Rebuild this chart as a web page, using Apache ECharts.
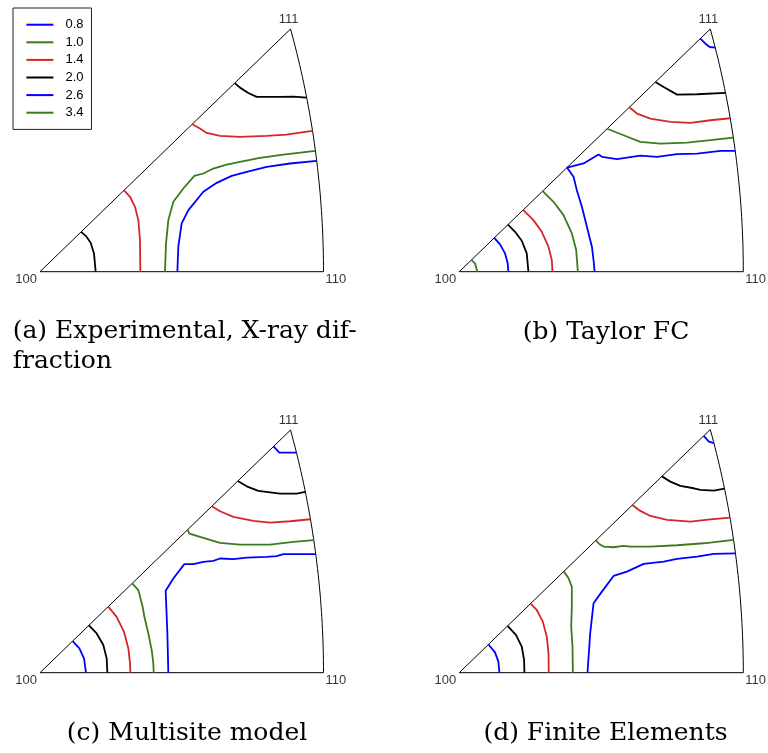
<!DOCTYPE html>
<html>
<head>
<meta charset="utf-8">
<script src="https://cdn.jsdelivr.net/npm/echarts@6/dist/echarts.min.js"></script>
<style>
  html, body { margin: 0; padding: 0; background: #ffffff; }
  #chart { width: 768px; height: 753px; }
</style>
</head>
<body>
<div id="chart"></div>
<script>
// Inverse pole figures (stereographic projection, [100] at the origin).
// Contour points are stereographic coordinates (x, y) inside the 100-110-111 triangle.

const levels = ['0.8', '1.0', '1.4', '2.0', '2.6', '3.4'];
const poleNames = ['100', '110', '111'];
const poleCoords = [[0, 0], [0.41421, 0], [0.36603, 0.36603]];
const captions = [
  ['(a) Experimental, X-ray dif-', 'fraction'],
  ['(b) Taylor FC'],
  ['(c) Multisite model'],
  ['(d) Finite Elements']
];

// (a) Experimental, X-ray diffraction
const a20Low = [[0.0600,0.0600],[0.0672,0.0537],[0.0740,0.0437],[0.0789,0.0276],[0.0813,0]];
const a14Low = [[0.1228,0.1228],[0.1315,0.1130],[0.1388,0.0979],[0.1437,0.0778],[0.1461,0.0477],[0.1466,0]];
const a10 = [[0.1826,0],[0.1841,0.0427],[0.1875,0.0778],[0.1948,0.1054],[0.2094,0.1255],[0.2255,0.1446],[0.2386,0.1481],[0.2532,0.1556],[0.2727,0.1616],[0.2922,0.1657],[0.3214,0.1717],[0.3555,0.1767],[0.4024,0.1822]];
const a08 = [[0.2007,0],[0.2021,0.0377],[0.2070,0.0728],[0.2168,0.0929],[0.2387,0.1205],[0.2582,0.1340],[0.2801,0.1446],[0.3020,0.1506],[0.3312,0.1581],[0.3653,0.1632],[0.4043,0.1672]];
const a14High = [[0.2225,0.2225],[0.2338,0.2159],[0.2435,0.2093],[0.2630,0.2048],[0.2922,0.2033],[0.3312,0.2048],[0.3604,0.2068],[0.3799,0.2098],[0.3982,0.2123]];
const a20High = [[0.2845,0.2845],[0.2922,0.2776],[0.3044,0.2696],[0.3166,0.2636],[0.3312,0.2636],[0.3507,0.2636],[0.3702,0.2641],[0.3896,0.2625]];

// (b) Taylor FC
const b34 = [[0.0178,0.0178],[0.0229,0.0126],[0.0263,0]];
const b26Low = [[0.0510,0.0510],[0.0594,0.0412],[0.0667,0.0276],[0.0706,0.0126],[0.0716,0]];
const b20Low = [[0.0710,0.0710],[0.0813,0.0602],[0.0911,0.0467],[0.0984,0.0276],[0.1008,0]];
const b14Low = [[0.0932,0.0932],[0.1081,0.0778],[0.1203,0.0602],[0.1300,0.0377],[0.1349,0.0176],[0.1359,0]];
const b10Low = [[0.1216,0.1216],[0.1374,0.1054],[0.1520,0.0853],[0.1641,0.0577],[0.1705,0.0326],[0.1729,0]];
const b08 = [[0.1973,0],[0.1958,0.0176],[0.1934,0.0377],[0.1861,0.0678],[0.1788,0.0979],[0.1714,0.1230],[0.1666,0.1431],[0.1570,0.1570],[0.1812,0.1632],[0.2031,0.1767],[0.2080,0.1732],[0.2299,0.1697],[0.2640,0.1752],[0.2884,0.1732],[0.3176,0.1772],[0.3468,0.1782],[0.3809,0.1822],[0.4024,0.1822]];
const b10High = [[0.2156,0.2156],[0.2396,0.2058],[0.2640,0.1958],[0.2932,0.1933],[0.3322,0.1948],[0.3663,0.1983],[0.3997,0.2023]];
const b14High = [[0.2480,0.2480],[0.2591,0.2385],[0.2786,0.2309],[0.3078,0.2259],[0.3371,0.2244],[0.3663,0.2284],[0.3951,0.2314]];
const b20High = [[0.2860,0.2860],[0.2981,0.2786],[0.3176,0.2671],[0.3468,0.2676],[0.3883,0.2696]];
const b26High = [[0.3515,0.3515],[0.3590,0.3439],[0.3653,0.3389],[0.3733,0.3378]];

// (c) Multisite model
const c26Low = [[0.0477,0.0477],[0.0575,0.0366],[0.0643,0.0216],[0.0672,0]];
const c20Low = [[0.0715,0.0715],[0.0828,0.0592],[0.0925,0.0417],[0.0974,0.0216],[0.0984,0]];
const c14Low = [[0.0997,0.0997],[0.1120,0.0843],[0.1227,0.0617],[0.1291,0.0366],[0.1315,0.0141],[0.1320,0]];
const c10Low = [[0.1347,0.1347],[0.1437,0.1245],[0.1500,0.0994],[0.1525,0.0843],[0.1583,0.0592],[0.1632,0.0341],[0.1656,0.0141],[0.1661,0]];
const c08 = [[0.1875,0],[0.1861,0.0592],[0.1836,0.1235],[0.1948,0.1421],[0.2109,0.1637],[0.2241,0.1637],[0.2387,0.1672],[0.2533,0.1687],[0.2630,0.1722],[0.2825,0.1712],[0.3020,0.1737],[0.3312,0.1747],[0.3458,0.1757],[0.3556,0.1787],[0.3799,0.1787],[0.4029,0.1787]];
const c10High = [[0.2156,0.2156],[0.2182,0.2098],[0.2338,0.2048],[0.2630,0.1958],[0.2922,0.1933],[0.3361,0.1933],[0.3702,0.1973],[0.4000,0.1998]];
const c14High = [[0.2509,0.2509],[0.2630,0.2435],[0.2825,0.2349],[0.3117,0.2289],[0.3361,0.2264],[0.3653,0.2284],[0.3951,0.2314]];
const c20High = [[0.2890,0.2890],[0.3020,0.2811],[0.3190,0.2741],[0.3507,0.2701],[0.3750,0.2701],[0.3877,0.2726]];
const c26High = [[0.3412,0.3412],[0.3497,0.3318],[0.3747,0.3318]];

// (d) Finite Elements
const d26Low = [[0.0425,0.0425],[0.0521,0.0306],[0.0570,0.0166],[0.0585,0]];
const d20Low = [[0.0705,0.0705],[0.0828,0.0567],[0.0911,0.0392],[0.0945,0.0191],[0.0950,0]];
const d14Low = [[0.1038,0.1038],[0.1130,0.0944],[0.1218,0.0768],[0.1276,0.0542],[0.1301,0.0291],[0.1305,0]];
const d10Low = [[0.1525,0.1525],[0.1593,0.1421],[0.1641,0.1295],[0.1641,0.0994],[0.1632,0.0693],[0.1651,0.0392],[0.1656,0]];
const d08 = [[0.1870,0],[0.1909,0.0592],[0.1958,0.1044],[0.2080,0.1220],[0.2250,0.1456],[0.2445,0.1521],[0.2689,0.1637],[0.2981,0.1672],[0.3176,0.1712],[0.3468,0.1747],[0.3712,0.1787],[0.4028,0.1797]];
const d10High = [[0.1993,0.1993],[0.2046,0.1933],[0.2104,0.1898],[0.2250,0.1888],[0.2396,0.1908],[0.2494,0.1898],[0.2786,0.1898],[0.3176,0.1918],[0.3565,0.1948],[0.4000,0.1998]];
const d14High = [[0.2524,0.2524],[0.2640,0.2435],[0.2786,0.2359],[0.3030,0.2299],[0.3371,0.2274],[0.3663,0.2309],[0.3948,0.2334]];
const d20High = [[0.2955,0.2955],[0.3078,0.2876],[0.3224,0.2811],[0.3419,0.2776],[0.3517,0.2751],[0.3712,0.2741],[0.3868,0.2771]];
const d26High = [[0.3565,0.3565],[0.3639,0.3479],[0.3714,0.3454]];

// contour sets per panel: [level, points]
const panels = [
  [['2.0', a20Low], ['1.4', a14Low], ['1.0', a10], ['0.8', a08], ['1.4', a14High], ['2.0', a20High]],
  [['3.4', b34], ['2.6', b26Low], ['2.0', b20Low], ['1.4', b14Low], ['1.0', b10Low], ['0.8', b08],
   ['1.0', b10High], ['1.4', b14High], ['2.0', b20High], ['2.6', b26High]],
  [['2.6', c26Low], ['2.0', c20Low], ['1.4', c14Low], ['1.0', c10Low], ['0.8', c08],
   ['1.0', c10High], ['1.4', c14High], ['2.0', c20High], ['2.6', c26High]],
  [['2.6', d26Low], ['2.0', d20Low], ['1.4', d14Low], ['1.0', d10Low], ['0.8', d08],
   ['1.0', d10High], ['1.4', d14High], ['2.0', d20High], ['2.6', d26High]]
];

// ---- styling and layout ----
const levelColor = {
  '0.8': '#0000ff', '1.0': '#3b7a1e', '1.4': '#d62728',
  '2.0': '#000000', '2.6': '#0000ff', '3.4': '#3b7a1e'
};
const sansFont = '"Liberation Sans", Arial, Helvetica, sans-serif';
const serifFont = '"DejaVu Serif", serif';

const gridBoxes = [
  { left: 40, top: 29, width: 283.5, height: 242.7 },
  { left: 459.3, top: 29, width: 284, height: 242.7 },
  { left: 40, top: 430, width: 283.5, height: 242.7 },
  { left: 459.3, top: 429.5, width: 284, height: 243.2 }
];
const captionPlaces = [
  { x: 12.7, y: 331.5, align: 'left' },
  { x: 606, y: 332, align: 'center' },
  { x: 187, y: 733.5, align: 'center' },
  { x: 605.5, y: 733.5, align: 'center' }
];

// outline of the standard triangle: edge 111-100, edge 100-110 and the
// great-circle arc 110-111, which projects to (x+1)^2 + y^2 = 2
function triangleOutline() {
  const pts = [poleCoords[2], poleCoords[0], poleCoords[1]];
  const tEnd = Math.atan2(poleCoords[2][1], poleCoords[2][0] + 1);
  const n = 40;
  for (let i = 1; i <= n; i++) {
    const t = tEnd * i / n;
    pts.push([Math.SQRT2 * Math.cos(t) - 1, Math.SQRT2 * Math.sin(t)]);
  }
  return pts;
}

const grid = [], xAxis = [], yAxis = [], series = [];
panels.forEach((contours, p) => {
  grid.push(Object.assign({ containLabel: false, show: false }, gridBoxes[p]));
  xAxis.push({ type: 'value', gridIndex: p, min: 0, max: poleCoords[1][0], show: false });
  yAxis.push({ type: 'value', gridIndex: p, min: 0, max: poleCoords[2][1], show: false });

  series.push({
    type: 'line', name: 'outline', xAxisIndex: p, yAxisIndex: p,
    data: triangleOutline(), symbol: 'none', silent: true, clip: false,
    lineStyle: { color: '#000', width: 1 }, z: 1
  });

  contours.forEach(([lvl, pts]) => {
    const col = levelColor[lvl];
    series.push({
      type: 'line', name: lvl, xAxisIndex: p, yAxisIndex: p,
      data: pts, symbol: 'none', silent: true, clip: false,
      itemStyle: { color: col },
      lineStyle: { color: col, width: 1.8 }, z: 2
    });
  });

  const labelSpec = [
    { position: 'left', distance: 3, offset: [0, 8] },
    { position: 'right', distance: 2, offset: [0, 8] },
    { position: 'top', distance: 3, offset: [-2, 0] }
  ];
  series.push({
    type: 'scatter', name: 'poles', xAxisIndex: p, yAxisIndex: p,
    symbolSize: 0, silent: true, clip: false, z: 3,
    data: poleNames.map((nm, i) => ({
      name: nm, value: poleCoords[i],
      label: Object.assign({
        show: true, formatter: '{b}', color: '#000',
        fontFamily: sansFont, fontSize: 13
      }, labelSpec[i])
    }))
  });
});

const graphic = [];
captions.forEach((lines, p) => {
  lines.forEach((txt, k) => {
    graphic.push({
      type: 'text', silent: true,
      x: captionPlaces[p].x, y: captionPlaces[p].y + k * 30,
      style: {
        text: txt, fill: '#000',
        font: '25px ' + serifFont,
        textAlign: captionPlaces[p].align, textVerticalAlign: 'middle'
      }
    });
  });
});

const chart = echarts.init(document.getElementById('chart'), null, { renderer: 'canvas' });
chart.setOption({
  animation: false,
  backgroundColor: '#ffffff',
  grid, xAxis, yAxis, series, graphic,
  legend: {
    data: levels,
    orient: 'vertical', left: 13, top: 8,
    padding: [9.7, 8, 9.7, 13.4],
    borderColor: '#222', borderWidth: 1,
    itemWidth: 27, itemHeight: 2, itemGap: 3.6,
    icon: 'rect', selectedMode: false,
    textStyle: { fontFamily: sansFont, fontSize: 13, lineHeight: 14, color: '#000', padding: [0, 0, 0, 7] }
  }
});
</script>
</body>
</html>
